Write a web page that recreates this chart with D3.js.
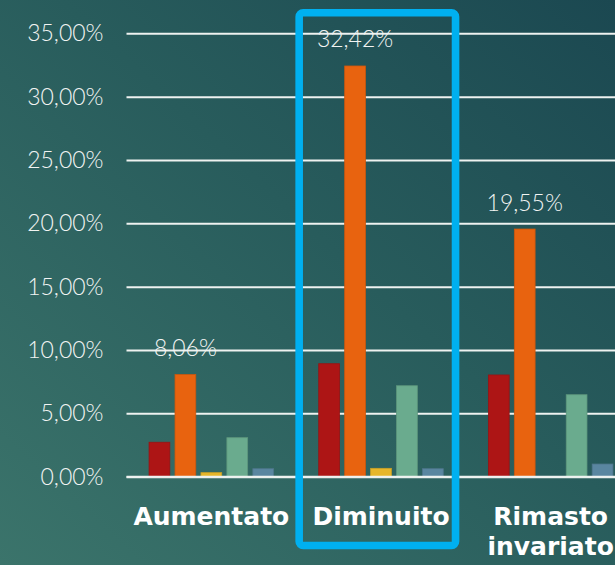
<!DOCTYPE html>
<html>
<head>
<meta charset="utf-8">
<script src="https://cdn.jsdelivr.net/npm/d3@7"></script>
<style>
  html, body { margin: 0; padding: 0; background: #265a5b; overflow: hidden; }
  svg { display: block; }
</style>
</head>
<body>
<svg id="chart" width="615" height="565"></svg>
<script>
// Categories along the x axis (second one is split into lines where needed)
const categories = ["Aumentato", "Diminuito", "Rimasto invariato"];
const categoryLines = [["Aumentato"], ["Diminuito"], ["Rimasto", "invariato"]];

// Five series, one value (percent) per category
const seriesNames = ["serie1", "serie2", "serie3", "serie4", "serie5"];
const serie1 = [2.72, 8.92, 8.03];
const serie2 = [8.06, 32.42, 19.55];
const serie3 = [0.32, 0.66, 0];
const serie4 = [3.08, 7.18, 6.47];
const serie5 = [0.63, 0.63, 1.0];
const seriesValues = [serie1, serie2, serie3, serie4, serie5];
const seriesColors = ["#ad1515", "#e8630f", "#e6b62a", "#6aab8e", "#5a86a0"];

// Series whose values are printed above the bars
const labelledSeries = "serie2";

// Y axis ticks
const yTicks = [0, 5, 10, 15, 20, 25, 30, 35];
const yMax = 35;

// Highlighted category
const highlighted = "Diminuito";

const W = 615, H = 565;
const svg = d3.select("#chart");

// Background gradient
const defs = svg.append("defs");
const grad = defs.append("linearGradient")
  .attr("id", "bg").attr("x1", "0%").attr("y1", "100%").attr("x2", "100%").attr("y2", "0%");
grad.append("stop").attr("offset", "0%").attr("stop-color", "#3b746b");
grad.append("stop").attr("offset", "55%").attr("stop-color", "#285c5c");
grad.append("stop").attr("offset", "100%").attr("stop-color", "#1b4851");
svg.append("rect").attr("width", W).attr("height", H).attr("fill", "url(#bg)");

// Scales
const plotLeft = 126.5, plotRight = 635.5, plotTop = 33.3, plotBottom = 476.7;
const x = d3.scaleBand().domain(categories).range([plotLeft, plotRight]).padding(0);
const bw = x.bandwidth();
const xs = d3.scaleBand().domain(seriesNames).range([bw * 0.133, bw * 0.867]).paddingInner(0.2);
const y = d3.scaleLinear().domain([0, yMax]).range([plotBottom, plotTop]);

const fmt = v => d3.format(".2f")(v).replace(".", ",") + "%";

// Gridlines + y labels via axis
const yAxis = d3.axisLeft(y).tickValues(yTicks).tickFormat(fmt)
  .tickSize(-(W - plotLeft)).tickPadding(23);
const gy = svg.append("g").attr("transform", `translate(${plotLeft},0)`).call(yAxis);
gy.select(".domain").remove();
gy.selectAll(".tick line").attr("stroke", "#eef2f0").attr("stroke-width", 2);
gy.selectAll(".tick text")
  .attr("fill", "#f2f4f3")
  .style("font-family", "Lato, 'Open Sans', sans-serif")
  .style("font-weight", 300)
  .style("font-size", "23px");

// Bars
const groups = svg.append("g").selectAll("g")
  .data(categories)
  .join("g")
  .attr("transform", d => `translate(${x(d)},0)`);

groups.selectAll("rect")
  .data((c, ci) => seriesNames.map((s, si) => ({ s, si, v: seriesValues[si][ci] })))
  .join("rect")
  .attr("x", d => xs(d.s))
  .attr("width", xs.bandwidth())
  .attr("y", d => y(d.v))
  .attr("height", d => y(0) - y(d.v))
  .attr("fill", d => seriesColors[d.si])
  .attr("stroke", d => d3.color(seriesColors[d.si]).darker(0.35))
  .attr("stroke-width", d => d.v > 0 ? 0.8 : 0);

// Redraw the baseline on top of bars
svg.append("line")
  .attr("x1", plotLeft).attr("x2", W)
  .attr("y1", y(0)).attr("y2", y(0))
  .attr("stroke", "#eef2f0").attr("stroke-width", 2);

// Value labels
const li = seriesNames.indexOf(labelledSeries);
svg.append("g").selectAll("text")
  .data(categories)
  .join("text")
  .attr("x", (c) => x(c) + xs(labelledSeries) + xs.bandwidth() / 2)
  .attr("y", (c, i) => y(seriesValues[li][i]) - 18.5)
  .attr("text-anchor", "middle")
  .attr("fill", "#f2f4f3")
  .style("font-family", "Lato, 'Open Sans', sans-serif")
  .style("font-weight", 300)
  .style("font-size", "23px")
  .text((c, i) => fmt(seriesValues[li][i]));

// Category labels
const catG = svg.append("g").selectAll("text")
  .data(categories)
  .join("text")
  .attr("text-anchor", "middle")
  .attr("fill", "#ffffff")
  .style("font-family", "'DejaVu Sans', sans-serif")
  .style("font-weight", 700)
  .style("font-size", "25px");
catG.each(function (c, i) {
  const cx = x(c) + xs(seriesNames[0]) + (xs(seriesNames[4]) + xs.bandwidth() - xs(seriesNames[0])) / 2;
  d3.select(this).selectAll("tspan")
    .data(categoryLines[i])
    .join("tspan")
    .attr("x", cx)
    .attr("y", (d, k) => 525 + k * 30)
    .text(d => d);
});

// Highlight frame around one category
svg.append("rect")
  .attr("x", x(highlighted) + 3)
  .attr("y", 12.8)
  .attr("width", bw - 13.3)
  .attr("height", 532.7)
  .attr("rx", 4)
  .attr("fill", "none")
  .attr("stroke", "#00b0f0")
  .attr("stroke-width", 7.6);
</script>
</body>
</html>
